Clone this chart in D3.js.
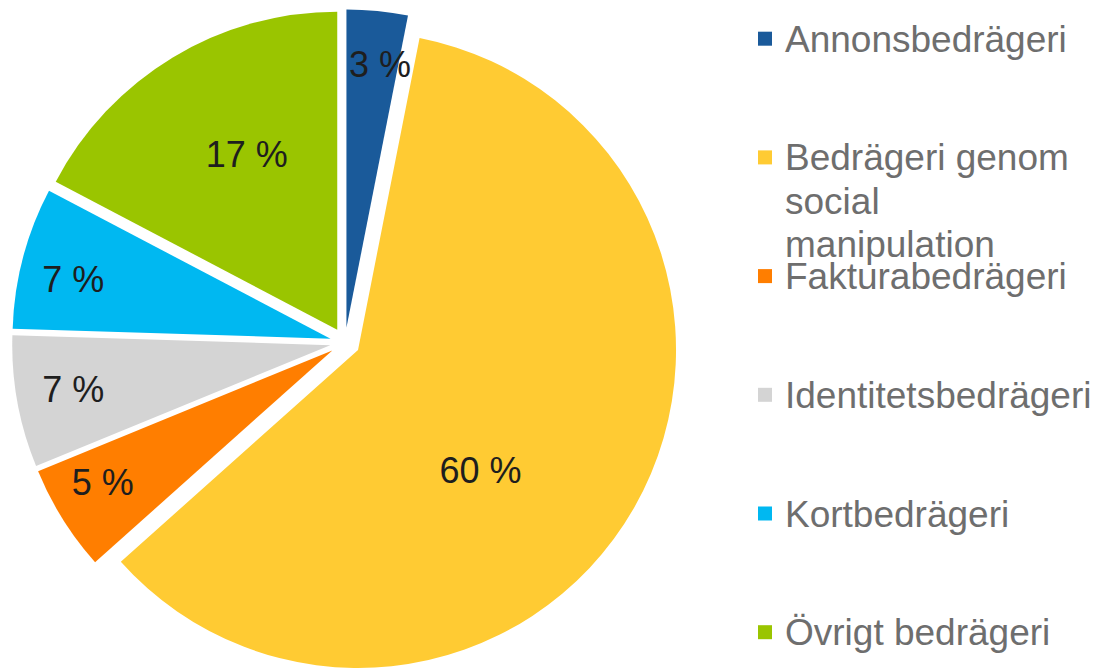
<!DOCTYPE html>
<html>
<head>
<meta charset="utf-8">
<script src="https://cdn.jsdelivr.net/npm/d3@7"></script>
<style>
  html, body { margin: 0; padding: 0; background: #ffffff; }
  svg { display: block; }
  text { font-family: "Liberation Sans", Arial, sans-serif; }
</style>
</head>
<body>
<svg id="chart" width="1097" height="671"></svg>
<script>
// ---- data ----
const categories = [
  "Annonsbedrägeri",
  "Bedrägeri genom social manipulation",
  "Fakturabedrägeri",
  "Identitetsbedrägeri",
  "Kortbedrägeri",
  "Övrigt bedrägeri"
];
const values = [3.1, 60.3, 5.4, 6.7, 7.2, 17.3];
const valueLabels = ["3 %", "60 %", "5 %", "7 %", "7 %", "17 %"];
const colors = ["#1A5A9A", "#FFCB33", "#FF7E00", "#D4D4D4", "#00B8F1", "#9AC500"];

// ---- layout config ----
const W = 1097, H = 671;
const cx = 345, cy = 342.5, R = 318, explode = 15;
const labelRadius = [0.835, 0.54, 0.832, 0.82, 0.83, 0.62];
const labelShiftDeg = [1.7, 14.8, 2.2, 0.5, -1.8, 3.8];

const svg = d3.select("#chart");
const data = categories.map((c, i) => ({ name: c, value: values[i], label: valueLabels[i], color: colors[i], idx: i }));

const pie = d3.pie().value(d => d.value).sort(null).startAngle(0).endAngle(2 * Math.PI);
const arc = d3.arc().innerRadius(0).outerRadius(R);
const arcs = pie(data);

const dir = a => [Math.sin(a), -Math.cos(a)];

const g = svg.append("g").attr("transform", `translate(${cx},${cy})`);

const slices = g.selectAll("g.slice").data(arcs).enter().append("g")
  .attr("class", "slice")
  .attr("transform", d => {
    const m = (d.startAngle + d.endAngle) / 2;
    const [dx, dy] = dir(m);
    return `translate(${dx * explode},${dy * explode})`;
  });

slices.append("path")
  .attr("d", arc)
  .attr("fill", d => d.data.color);

slices.append("text")
  .attr("x", d => {
    const m = (d.startAngle + d.endAngle) / 2 + labelShiftDeg[d.data.idx] * Math.PI / 180;
    return dir(m)[0] * R * labelRadius[d.data.idx];
  })
  .attr("y", d => {
    const m = (d.startAngle + d.endAngle) / 2 + labelShiftDeg[d.data.idx] * Math.PI / 180;
    return dir(m)[1] * R * labelRadius[d.data.idx];
  })
  .attr("dy", "0.35em")
  .attr("text-anchor", "middle")
  .attr("font-size", 36)
  .attr("fill", "#1E1E1E")
  .text(d => d.data.label);

// ---- legend ----
const legendX = 758, textX = 785, firstBaseline = 51.7, step = 118.7, lineH = 43.5, maxW = 305;
const legend = svg.append("g");
data.forEach((d, i) => {
  const base = firstBaseline + i * step;
  legend.append("rect")
    .attr("x", legendX).attr("y", base - 20)
    .attr("width", 14).attr("height", 14)
    .attr("fill", d.color);
  const t = legend.append("text")
    .attr("x", textX).attr("y", base)
    .attr("font-size", 37)
    .attr("fill", "#6E6E6E");
  const words = d.name.split(" ");
  let line = [];
  let lineNo = 0;
  let ts = t.append("tspan").attr("x", textX).attr("y", base);
  words.forEach(w => {
    line.push(w);
    ts.text(line.join(" "));
    if (ts.node().getComputedTextLength() > maxW && line.length > 1) {
      line.pop();
      ts.text(line.join(" "));
      line = [w];
      lineNo++;
      ts = t.append("tspan").attr("x", textX).attr("y", base + lineNo * lineH).text(w);
    }
  });
});
</script>
</body>
</html>
